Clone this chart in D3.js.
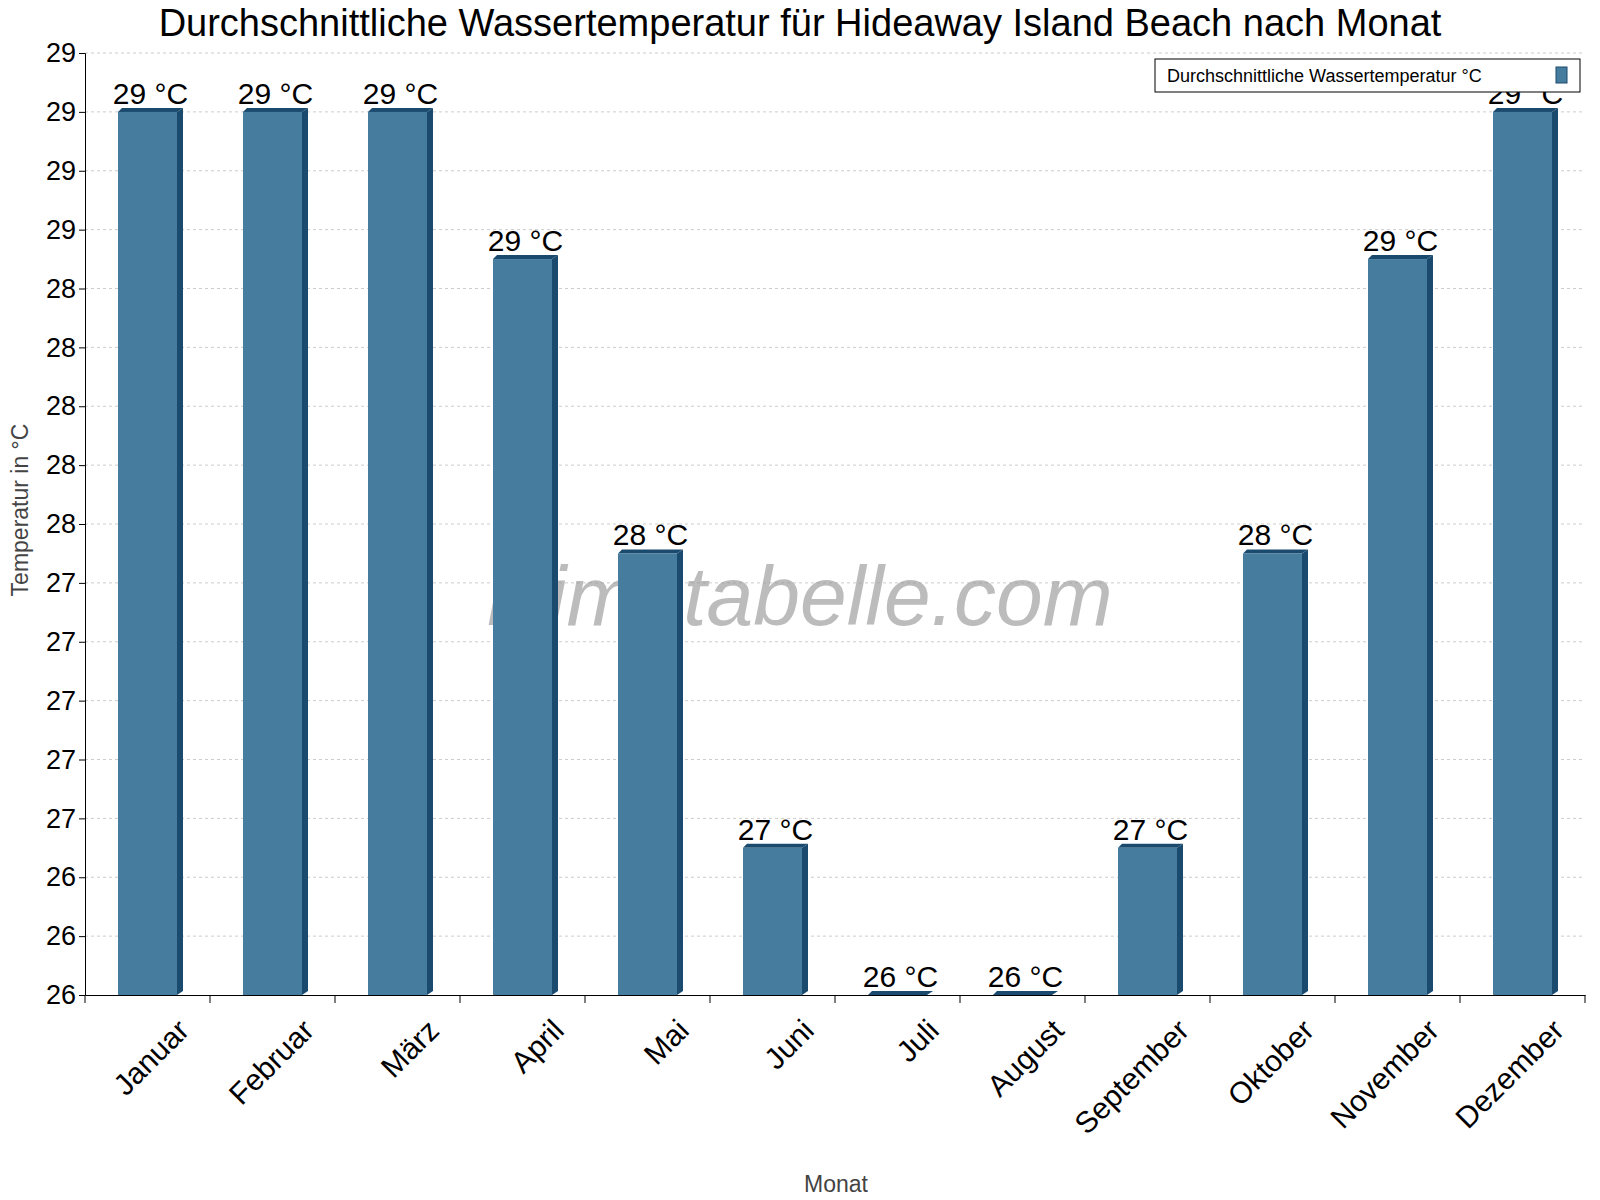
<!DOCTYPE html>
<html><head><meta charset="utf-8">
<script src="https://cdn.jsdelivr.net/npm/d3@7"></script>
<style>body{margin:0;background:#fff}svg{font-family:"Liberation Sans",Arial,sans-serif}</style>
</head><body><svg id="c" width="1600" height="1200"></svg>
<script>
const months=["Januar","Februar","März","April","Mai","Juni","Juli","August","September","Oktober","November","Dezember"];
const temps=[29,29,29,28.5,27.5,26.5,26,26,26.5,27.5,28.5,29];
const yTicks=d3.range(0,17).map(i=>26+i*0.2);
const svg=d3.select("#c");
const m={l:85,r:1585,t:53,b:995};
const x=d3.scaleBand().domain(months).range([m.l,m.r]);
const y=d3.scaleLinear().domain([26,29.2]).range([m.b,m.t]);
// grid
svg.append("g").selectAll("line").data(yTicks.slice(1)).join("line")
 .attr("x1",m.l).attr("x2",m.r).attr("y1",d=>y(d)).attr("y2",d=>y(d))
 .attr("stroke","#ccc").attr("stroke-dasharray","3,3");
// watermark
svg.append("text").attr("x",800).attr("y",625).attr("text-anchor","middle")
 .attr("font-size",84).attr("font-style","italic").attr("fill","#999").attr("opacity",0.65).text("klimatabelle.com");
// bars
const bw=59,dp=6;
const g=svg.append("g");
months.forEach((mo,i)=>{
 const cx=x(mo)+x.bandwidth()/2, x0=cx-bw/2, yt=y(temps[i]);
 g.append("polygon").attr("points",`${x0+bw},${yt} ${x0+bw+dp},${yt-4} ${x0+bw+dp},${m.b-4} ${x0+bw},${m.b}`).attr("fill","#1a4b6e");
 g.append("polygon").attr("points",`${x0},${yt} ${x0+4},${yt-4} ${x0+bw+dp},${yt-4} ${x0+bw},${yt}`).attr("fill","#1a4b6e");
 g.append("rect").attr("x",x0).attr("y",yt).attr("width",bw).attr("height",m.b-yt).attr("fill","#467c9e");
 g.append("text").attr("x",cx+3).attr("y",yt-8).attr("text-anchor","middle").attr("font-size",30).attr("fill","#000").text(Math.round(temps[i])+" °C");
});
// axes
const ya=svg.append("g").attr("transform",`translate(${m.l},0)`).call(d3.axisLeft(y).tickValues(yTicks).tickFormat(d=>Math.round(d)).tickSize(6));
ya.selectAll("text").attr("font-size",27).attr("fill","#000");
ya.select(".domain").attr("stroke","#000");
const xa=svg.append("g").attr("transform",`translate(0,${m.b})`).call(d3.axisBottom(x).tickSize(0).tickFormat(""));
xa.select(".domain").attr("stroke","#000");
svg.append("g").selectAll("line").data(d3.range(13)).join("line")
 .attr("x1",i=>m.l+i*x.step()).attr("x2",i=>m.l+i*x.step()).attr("y1",m.b).attr("y2",m.b+8).attr("stroke","#000");
svg.append("g").selectAll("text").data(months).join("text")
 .attr("transform",d=>`translate(${x(d)+x.bandwidth()/2+28},${m.b+22}) rotate(-45)`)
 .attr("text-anchor","end").attr("dominant-baseline","hanging").attr("font-size",30).text(d=>d);
// titles
svg.append("text").attr("x",800).attr("y",36).attr("text-anchor","middle").attr("font-size",38).text("Durchschnittliche Wassertemperatur für Hideaway Island Beach nach Monat");
svg.append("text").attr("x",836).attr("y",1192).attr("text-anchor","middle").attr("font-size",23).attr("fill","#444").text("Monat");
svg.append("text").attr("transform","translate(28,510) rotate(-90)").attr("text-anchor","middle").attr("font-size",23).attr("fill","#444").text("Temperatur in °C");
// legend
svg.append("rect").attr("x",1155).attr("y",59).attr("width",425).attr("height",33).attr("fill","#fff").attr("stroke","#000");
svg.append("text").attr("x",1167).attr("y",82).attr("font-size",18).text("Durchschnittliche Wassertemperatur °C");
svg.append("rect").attr("x",1556).attr("y",67).attr("width",11).attr("height",16).attr("fill","#467c9e").attr("stroke","#1a4b6e");
</script></body></html>
